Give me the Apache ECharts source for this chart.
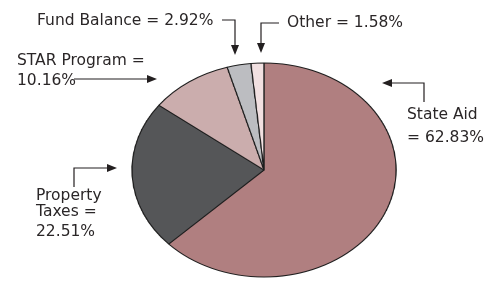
<!DOCTYPE html>
<html>
<head>
<meta charset="utf-8">
<script src="https://cdn.jsdelivr.net/npm/echarts@6/dist/echarts.min.js"></script>
<style>
  html, body { margin: 0; padding: 0; background: #fff; }
  #wrap { position: relative; width: 484px; height: 282px; overflow: hidden; }
  #pie { position: absolute; left: 0; top: 0; width: 484px; height: 282px;
         transform: scaleX(1.234); transform-origin: 264px 170px; }
  #notes { position: absolute; left: 0; top: 0; width: 484px; height: 282px; }
</style>
</head>
<body>
<div id="wrap">
  <div id="pie"></div>
  <div id="notes"></div>
</div>
<script>
// 数据
var categories = ['State Aid', 'Property Taxes', 'STAR Program', 'Fund Balance', 'Other'];
var shares = [62.83, 22.51, 10.16, 2.92, 1.58];
var colors = ['#b07f80', '#555658', '#cbadad', '#bcbdc1', '#f1e0e1'];

// 饼图 (横向拉伸成椭圆)
var pieChart = echarts.init(document.getElementById('pie'), null, {devicePixelRatio: 2});
pieChart.setOption({
    animation: false,
    series: [{
        type: 'pie',
        center: [264, 170],
        radius: 107,
        startAngle: 90,
        clockwise: true,
        label: {show: false},
        labelLine: {show: false},
        emphasis: {disabled: true},
        itemStyle: {borderColor: '#1e1e1e', borderWidth: 1},
        data: categories.map(function (name, i) {
            return {name: name, value: shares[i], itemStyle: {color: colors[i]}};
        })
    }]
});

// 标注文字和箭头
function txt(x, y, s) {
    return {type: 'text', style: {
        text: s, x: x, y: y, verticalAlign: 'middle',
        fontFamily: 'DejaVu Sans', fontSize: 15.5, fill: '#2a2627'
    }};
}
function line(points) {
    return {type: 'polyline', shape: {points: points}, style: {stroke: '#231f20', lineWidth: 1.2, fill: null}};
}
function head(x, y, dir) {
    // 箭头三角形, tip at (x, y)
    var p;
    if (dir === 'down') p = [[x, y], [x - 4, y - 10], [x + 4, y - 10]];
    else if (dir === 'right') p = [[x, y], [x - 10, y - 4], [x - 10, y + 4]];
    else p = [[x, y], [x + 10, y - 4], [x + 10, y + 4]];
    return {type: 'polygon', shape: {points: p}, style: {fill: '#231f20'}};
}
function pct(i) { return shares[i].toFixed(2) + '%'; }

var notesChart = echarts.init(document.getElementById('notes'));
notesChart.setOption({
    animation: false,
    graphic: [
        txt(37, 21, categories[3] + ' = ' + pct(3)),
        line([[222, 20], [235, 20], [235, 46]]),
        head(235, 55, 'down'),

        txt(287, 23, categories[4] + ' = ' + pct(4)),
        line([[279, 23], [261, 23], [261, 44]]),
        head(261, 53, 'down'),

        txt(17, 61, 'STAR Program ='),
        txt(17, 81, pct(2)),
        line([[74, 79], [148, 79]]),
        head(157, 79, 'right'),

        txt(407, 115, 'State Aid'),
        txt(407, 138, '= ' + pct(0)),
        line([[424, 102], [424, 83], [391, 83]]),
        head(382, 83, 'left'),

        txt(36, 196, 'Property'),
        txt(36, 212, 'Taxes ='),
        txt(36, 232, pct(1)),
        line([[74, 187], [74, 168], [108, 168]]),
        head(117, 168, 'right')
    ]
});
</script>
</body>
</html>
